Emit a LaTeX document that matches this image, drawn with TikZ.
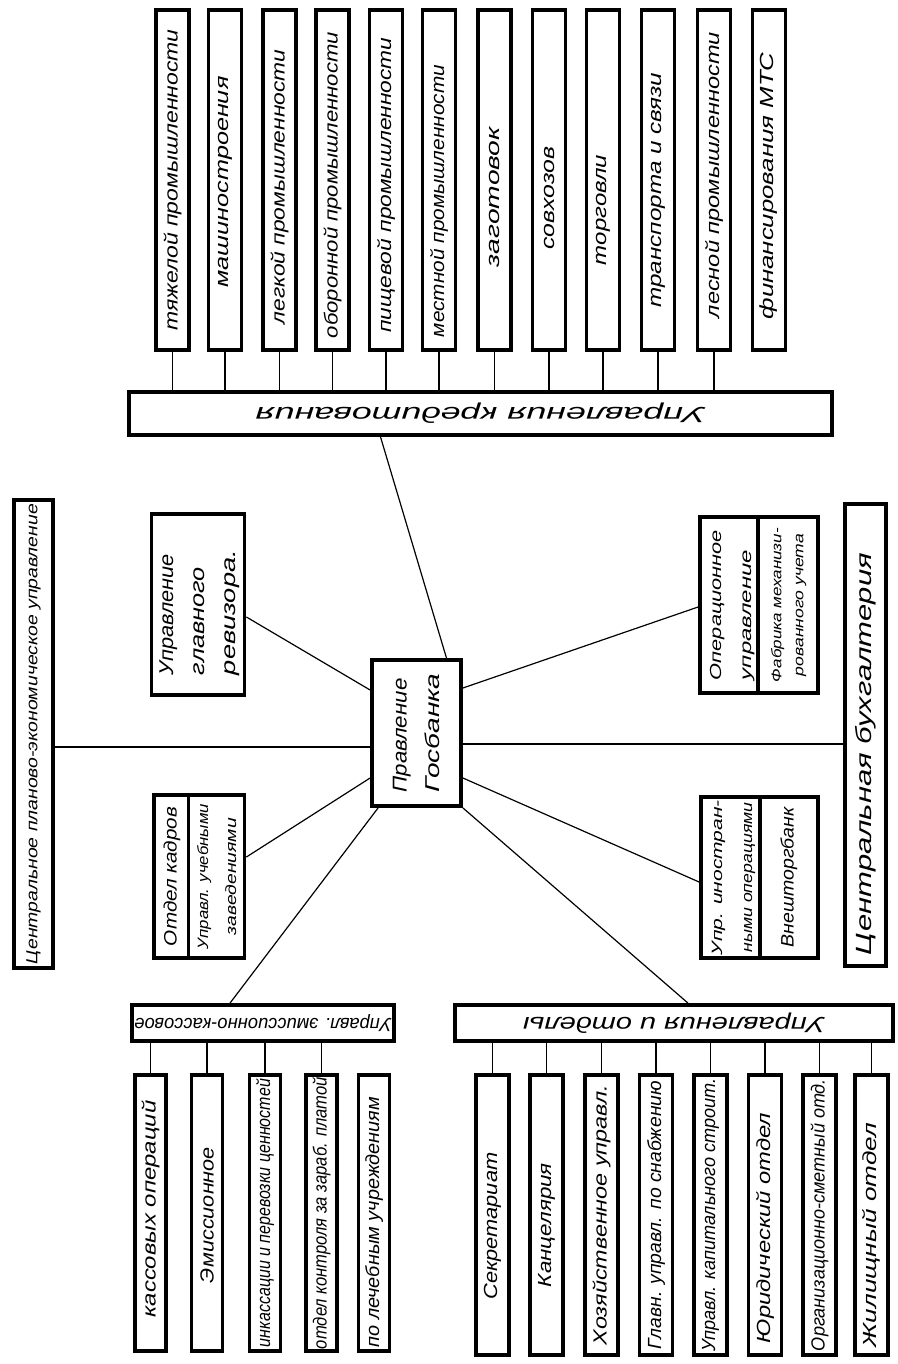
\documentclass[tikz,border=0pt]{standalone}
\usepackage{fontspec}
\setmainfont{Liberation Sans}
\usepackage{graphicx}
\newcommand\fw[2]{\resizebox{#1pt}{\height}{#2}}
\newcommand\vt[3]{\rotatebox{90}{\fw{#1}{#3}\kern#2pt\kern#2pt}}
\newcommand\hdt[2]{\rotatebox{180}{\fw{#1}{#2}}}
\begin{document}
\begin{tikzpicture}[x=1pt,y=-1pt,
  box/.style={draw, line width=3.8pt, inner sep=0pt, fill=white},
  f19/.style={font=\fontsize{19}{22}\selectfont\itshape},
  ln/.style={line width=1.2pt},
  tb/.style={box,f19,minimum width=33pt,minimum height=340pt},
  eb/.style={box,f19,minimum width=31pt,minimum height=276pt},
  ob/.style={box,f19,minimum width=33pt,minimum height=280pt}]
\fill[white] (0,0) rectangle (897,1364);
\useasboundingbox (0,0) rectangle (897,1364);

% top row
\node[box,font=\fontsize{22}{26}\selectfont\itshape,minimum width=703pt,minimum height=43pt] (kred) at (480.5,413.5) {\hdt{450}{Управления кредитования}};
\node[tb] (t1) at (172.5,180) {\vt{301}{0}{тяжелой промышленности}};
\node[tb] (t2) at (225,180) {\vt{211}{2}{машиностроения}};
\node[tb] (t3) at (279.5,180) {\vt{275}{7}{легкой промышленности}};
\node[tb] (t4) at (332.5,180) {\vt{306}{5}{оборонной промышленности}};
\node[tb] (t5) at (386,180) {\vt{295}{5}{пищевой промышленности}};
\node[tb] (t6) at (439,180) {\vt{272}{21}{местной промышленности}};
\node[tb] (t7) at (494.5,180) {\vt{140}{17}{заготовок}};
\node[tb] (t8) at (549,180) {\vt{103}{18}{совхозов}};
\node[tb] (t9) at (603,180) {\vt{110}{30}{торговли}};
\node[tb] (t10) at (658,180) {\vt{235}{10}{транспорта и связи}};
\node[tb] (t11) at (714,180) {\vt{286}{-5}{лесной промышленности}};
\node[tb] (t12) at (769,180) {\vt{267}{6}{финансирования МТС}};
\foreach \i in {1,...,11} \draw[ln] (t\i.south) -- (t\i.south |- kred.north);

% centre
\node[box,font=\fontsize{20}{33}\selectfont\itshape,minimum width=89pt,minimum height=146pt] (gb) at (416.5,733)
  {\rotatebox{90}{\begin{tabular}{@{}l@{}}\fw{114}{Правление}\\\fw{119}{Госбанка}\end{tabular}}};

% left
\node[box,font=\fontsize{16}{20}\selectfont\itshape,minimum width=39pt,minimum height=468pt] (plan) at (33.5,734)
  {\vt{460}{0}{Центральное планово-экономическое управление}};
\node[box,font=\fontsize{20}{31}\selectfont\itshape,minimum width=92pt,minimum height=181pt] (rev) at (198,604.5)
  {\rotatebox{90}{\begin{tabular}{@{}l@{}}\fw{121}{Управление}\\\fw{108}{главного}\\\fw{125}{ревизора.}\end{tabular}\kern16pt}};
\node[box,font=\fontsize{18}{22}\selectfont\itshape,minimum width=36pt,minimum height=163pt] (kadL) at (172,876.5)
  {\vt{139}{0}{Отдел кадров}};
\node[box,font=\fontsize{15}{28}\selectfont\itshape,minimum width=53pt,minimum height=163pt] (kadR) at (216.5,876.5)
  {\rotatebox{90}{\begin{tabular}{@{}c@{}}\fw{145}{Управл. учебными}\\\fw{117}{заведениями}\end{tabular}}};

% right
\node[box,font=\fontsize{16}{30}\selectfont\itshape,minimum width=56pt,minimum height=176pt] (opL) at (730,605)
  {\rotatebox{90}{\begin{tabular}{@{}l@{}}\fw{150}{Операционное}\\\fw{130}{управление}\end{tabular}}};
\node[box,font=\fontsize{14}{22}\selectfont\itshape,minimum width=60pt,minimum height=176pt] (opR) at (788,605)
  {\rotatebox{90}{\begin{tabular}{@{}c@{}}\fw{154}{Фабрика механизи-}\\\fw{142}{рованного учета}\end{tabular}}};
\node[box,font=\fontsize{15}{30}\selectfont\itshape,minimum width=58pt,minimum height=161pt] (forL) at (731,877.5)
  {\rotatebox{90}{\begin{tabular}{@{}c@{}}\fw{155}{Упр. иностран-}\\\fw{150}{ными операциями}\end{tabular}}};
\node[box,font=\fontsize{18}{22}\selectfont\itshape,minimum width=58pt,minimum height=161pt] (forR) at (789,877.5)
  {\vt{140}{0}{Внешторгбанк}};
\node[box,font=\fontsize{22}{26}\selectfont\itshape,minimum width=41pt,minimum height=462pt] (buh) at (865.5,735)
  {\vt{402}{19}{Центральная бухгалтерия}};

% emission
\node[box,f19,minimum width=262pt,minimum height=36pt] (emis) at (263,1023) {\hdt{257}{Управл. эмиссионно-кассовое}};
\node[eb] (e1) at (150.5,1213) {\vt{217}{-4}{кассовых операций}};
\node[eb] (e2) at (207,1213) {\vt{136}{2}{Эмиссионное}};
\node[eb] (e3) at (265,1213) {\vt{268}{0}{инкассации и перевозки ценностей}};
\node[eb] (e4) at (321.5,1213) {\vt{272}{0}{отдел контроля за зараб. платой}};
\node[eb] (e5) at (374,1213) {\vt{250}{9}{по лечебным учреждениям}};
\foreach \i in {1,...,4} \draw[ln] (e\i.north) -- (e\i.north |- emis.south);

% departments
\node[box,font=\fontsize{22}{26}\selectfont\itshape,minimum width=438pt,minimum height=36pt] (otd) at (674,1023) {\hdt{302}{Управления и отделы}};
\node[ob] (o1) at (492.5,1215) {\vt{147}{11}{Секретариат}};
\node[ob] (o2) at (546.5,1215) {\vt{124}{10}{Канцелярия}};
\node[ob] (o3) at (601.5,1215) {\vt{260}{0}{Хозяйственное управл.}};
\node[ob] (o4) at (656,1215) {\vt{268}{0}{Главн. управл. по снабжению}};
\node[ob] (o5) at (710.5,1215) {\vt{273}{0}{Управл. капитального строит.}};
\node[ob] (o6) at (765,1215) {\vt{230}{13}{Юридический отдел}};
\node[ob] (o7) at (819.5,1215) {\vt{272}{0}{Организационно-сметный отд.}};
\node[ob] (o8) at (871.5,1215) {\vt{224}{20}{Жилищный отдел}};
\foreach \i in {1,...,8} \draw[ln] (o\i.north) -- (o\i.north |- otd.south);

% connectors from the centre
\draw[ln] ([xshift=-100pt]kred.south) -- ([xshift=30pt]gb.north);
\draw[ln] ([yshift=-12.5pt]rev.east) -- ([yshift=43pt]gb.west);
\draw[ln] ([yshift=-14pt]gb.west) -- ([yshift=-14pt]gb.west -| plan.east);
\draw[ln] ([yshift=19.5pt]kadR.east) -- ([yshift=-45pt]gb.west);
\draw[ln] ([xshift=8pt]gb.south west) -- ([xshift=-33pt]emis.north);
\draw[ln] ([yshift=45pt]gb.east) -- ([yshift=-2pt]opL.west);
\draw[ln] ([yshift=-11pt]gb.east) -- ([yshift=-11pt]gb.east -| buh.west);
\draw[ln] ([yshift=-45pt]gb.east) -- ([yshift=-4.5pt]forL.west);
\draw[ln] (gb.south east) -- ([xshift=14pt]otd.north);
\end{tikzpicture}
\end{document}
